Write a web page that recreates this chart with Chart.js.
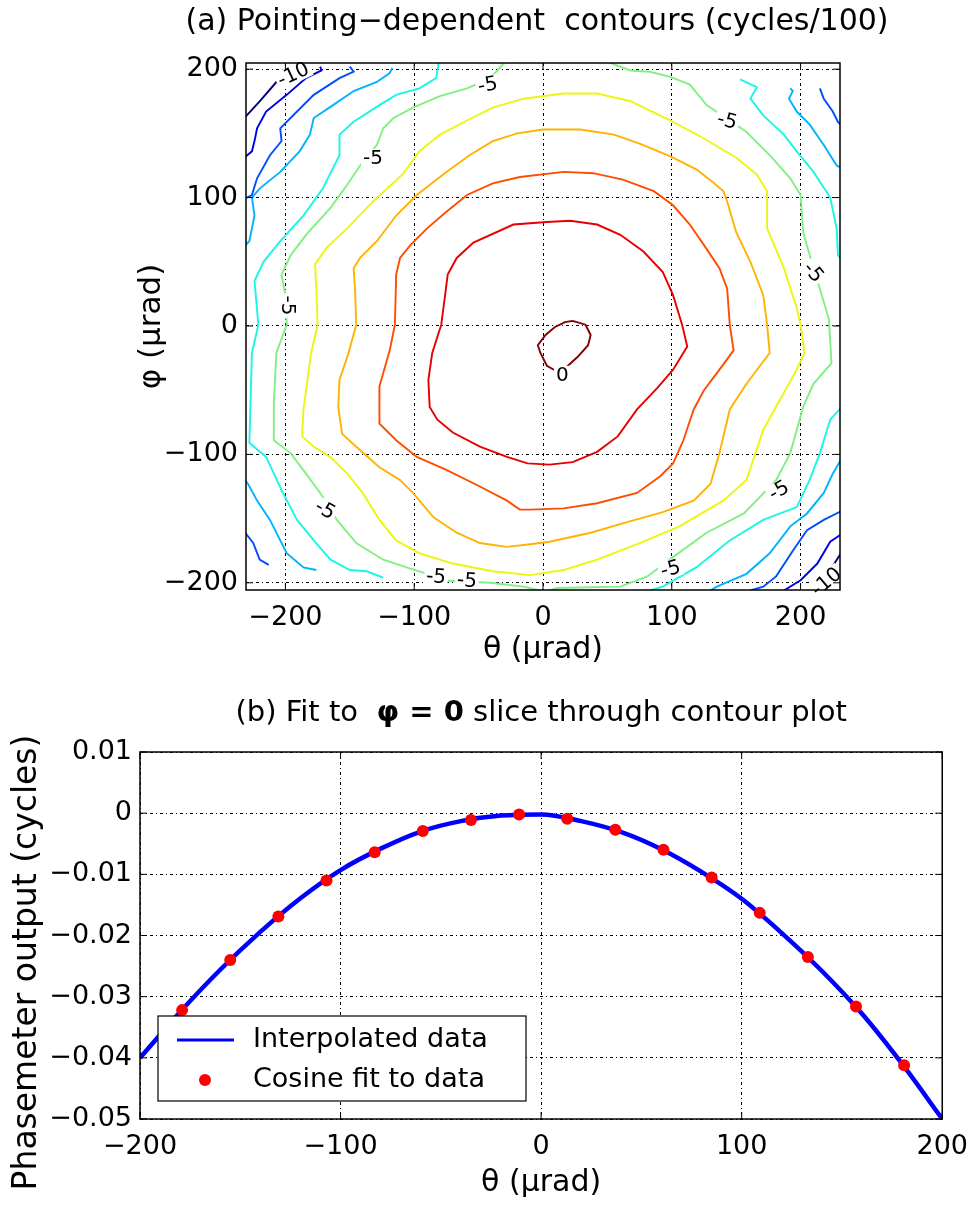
<!DOCTYPE html>
<html lang="en">
<head>
<meta charset="UTF-8">
<title>Pointing-dependent contours</title>
<script src="https://cdn.jsdelivr.net/npm/chart.js"></script>
<style>
  body { margin: 0; background: #fff; }
  .wrap { position: relative; width: 980px; height: 1205px; }
  canvas { position: absolute; left: 0; }
  #topChart { top: 0; }
  #bottomChart { top: 680px; }
</style>
</head>
<body>
<div class="wrap">
  <canvas id="topChart" width="980" height="680"></canvas>
  <canvas id="bottomChart" width="980" height="525"></canvas>
</div>
<script>
// ---- (a) contour data: theta, phi in microrad, one array of segments per level ----
const levels = [0, -1, -2, -3, -4, -5, -6, -7, -8, -9, -10];
const levelColors = ['#800000', '#e60000', '#ff4d00', '#ffb300', '#eef50f', '#80f080',
                     '#1af5e6', '#00b3ff', '#004dff', '#0000e6', '#000080'];

const c0 = [[[23,4],[33,1],[37,-7],[35,-15],[27,-24],[17,-33],[12,-36],[3,-31],[-2,-21],[-4,-15],[2,-7],[9,-1],[17,3],[23,4]]];
const c1 = [[[-79,1],[-76,24],[-74,40],[-67,53],[-54,65],[-23,79],[3,81],[21,82],[42,79],[60,71],[78,58],[93,42],[101,24],[108,1],[112,-16],[101,-34],[89,-48],[73,-65],[58,-86],[42,-98],[23,-106],[5,-108],[-12,-107],[-28,-102],[-49,-94],[-70,-83],[-82,-73],[-88,-63],[-89,-42],[-86,-21],[-79,1]]];
const c2 = [[[-115,1],[-114,40],[-111,53],[-103,63],[-90,76],[-75,89],[-59,102],[-39,111],[-18,116],[16,120],[39,119],[62,114],[86,105],[101,94],[114,79],[125,63],[137,45],[143,29],[145,1],[148,-19],[137,-34],[125,-50],[117,-65],[109,-89],[101,-107],[91,-117],[73,-130],[42,-138],[16,-142],[-10,-143],[-18,-143],[-28,-136],[-49,-125],[-75,-112],[-98,-102],[-114,-89],[-127,-76],[-127,-47],[-119,-19],[-115,1]]];
const c3 = [[[-145,1],[-146,29],[-147,45],[-142,53],[-129,66],[-114,86],[-98,102],[-75,120],[-57,133],[-39,144],[-20,150],[0,153],[29,153],[55,149],[75,142],[99,132],[119,122],[132,112],[140,105],[143,97],[150,73],[161,50],[171,24],[174,1],[176,-21],[158,-45],[145,-65],[137,-99],[130,-123],[117,-136],[93,-145],[68,-152],[37,-161],[5,-168],[-10,-170],[-28,-172],[-49,-169],[-67,-161],[-85,-149],[-101,-130],[-111,-120],[-127,-110],[-145,-94],[-156,-84],[-159,-63],[-158,-42],[-151,-21],[-145,1]]];
const c4 = [[[-175,1],[-176,29],[-177,48],[-168,61],[-152,76],[-132,97],[-109,118],[-96,136],[-80,149],[-59,160],[-39,170],[-15,177],[16,181],[42,181],[68,175],[99,160],[125,146],[150,131],[166,118],[174,105],[174,76],[187,45],[197,14],[200,1],[203,-21],[197,-34],[187,-52],[171,-81],[158,-120],[140,-136],[106,-156],[75,-169],[42,-182],[16,-190],[-10,-194],[-39,-191],[-70,-185],[-96,-177],[-114,-167],[-127,-151],[-140,-130],[-152,-115],[-165,-102],[-178,-94],[-187,-86],[-186,-65],[-180,-21],[-175,1]]];
const c5 = [[[-30,205],[-41,193],[-59,185],[-80,179],[-101,170],[-116,162],[-124,154],[-129,141],[-142,125],[-152,110],[-165,92],[-184,71],[-196,55],[-203,40],[-200,24],[-199,1],[-207,-21],[-209,-60],[-209,-89],[-196,-99],[-184,-115],[-173,-130],[-160,-151],[-145,-169],[-124,-182],[-103,-189],[-90,-193],[-80,-198],[-62,-199],[-41,-200],[-15,-203],[2,-207],[11,-204],[60,-203],[81,-195],[101,-180],[127,-161],[156,-146],[181,-120],[192,-99],[202,-63],[210,-45],[224,-29],[222,5],[215,29],[210,45],[202,73],[200,102],[192,115],[176,133],[158,151],[145,160],[127,172],[114,188],[99,194],[83,198],[68,199],[52,205]]];
const c6 = [
  [[-81,205],[-83,193],[-96,185],[-114,180],[-127,172],[-147,159],[-158,149],[-158,133],[-171,107],[-186,86],[-204,66],[-217,50],[-224,35],[-221,1],[-226,-21],[-228,-91],[-215,-102],[-202,-130],[-191,-151],[-178,-167],[-165,-182],[-150,-190],[-137,-191],[-124,-196]],
  [[83,-206],[93,-203],[119,-188],[145,-167],[171,-151],[197,-141],[207,-120],[215,-99],[223,-73],[232,-63]],
  [[232,52],[229,55],[228,76],[223,100],[210,120],[197,136],[187,149],[171,164],[161,177],[166,186],[153,192]]
];
const c7 = [
  [[-117,201],[-119,197],[-129,190],[-147,183],[-163,172],[-178,162],[-181,149],[-189,136],[-204,120],[-220,107],[-226,100],[-224,86],[-228,66],[-232,62]],
  [[-232,-119],[-229,-123],[-222,-136],[-212,-151],[-204,-167],[-199,-177],[-186,-188],[-176,-190]],
  [[130,-206],[135,-203],[158,-193],[176,-177],[192,-156],[205,-146],[218,-130],[225,-115],[232,-103]],
  [[232,123],[228,125],[218,141],[207,157],[197,167],[191,177],[194,183],[192,185]]
];
const c8 = [
  [[-150,202],[-147,198],[-158,193],[-178,180],[-191,167],[-204,154],[-203,144],[-212,133],[-222,115],[-226,102],[-232,99]],
  [[-232,-160],[-225,-169],[-220,-182],[-213,-186]],
  [[161,-206],[171,-203],[181,-195],[194,-175],[205,-159],[218,-151],[232,-144]],
  [[215,185],[218,177],[225,167],[229,159],[232,156]]
];
const c9 = [
  [[-173,202],[-172,199],[-184,193],[-199,180],[-215,167],[-222,154],[-224,144],[-226,136],[-232,131]],
  [[187,-206],[200,-198],[213,-185],[223,-168],[232,-162]]
];
const c10 = [
  [[-232,162],[-230,164],[-220,175],[-207,190],[-202,195]],
  [[232,-176],[223,-190],[218,-196]]
];
const contours = [c0, c1, c2, c3, c4, c5, c6, c7, c8, c9, c10];

// contour labels (clabel)
const labelText  = ['-10', '-5', '-5', '-5', '-5', '-5', '-5', '-5', '-5', '-5', '-5', '0', '-10'];
const labelTheta = [-194, -43, -132, -198, 143, 210, -169, -83, -59, 99, 183, 15, 220];
const labelPhi   = [196, 188, 131, 16, 160, 42, -143, -195, -198, -189, -128, -38, -199];
const labelAngle = [-25, -10, 0, 90, 15, 50, 30, 5, 5, -15, -30, 0, -40];

const thetaTicksA = [-200, -100, 0, 100, 200];
const phiTicksA = [-200, -100, 0, 100, 200];

// ---- (b) phi = 0 slice ----
const thetaLine = [-200,-180,-160,-140,-120,-100,-80,-60,-40,-20,0,20,40,60,80,100,120,140,160,180,200];
const phaseLine = [-0.0400,-0.0325,-0.0256,-0.0194,-0.0139,-0.0093,-0.0058,-0.0030,-0.0013,-0.0004,-0.0002,
                   -0.0013,-0.0031,-0.0059,-0.0096,-0.0140,-0.0196,-0.0258,-0.0328,-0.0410,-0.0500];
const thetaFit = [-179,-155,-131,-107,-83,-59,-35,-11,13,37,61,85,109,133,157,181];
const phaseFit = [-0.0322,-0.0240,-0.0169,-0.0110,-0.0064,-0.0029,-0.0011,-0.0002,-0.0009,-0.0027,
                  -0.0060,-0.0105,-0.0163,-0.0235,-0.0316,-0.0412];
const thetaTicksB = [-200, -100, 0, 100, 200];
const phaseTicksB = [0.01, 0, -0.01, -0.02, -0.03, -0.04, -0.05];

const FONT = '"DejaVu Sans", sans-serif';
const MINUS = '\u2212';
const fmt = v => String(v).replace('-', MINUS);
const gridDash = [3, 3, 1, 3];

// box with inward ticks, like matlab axes
const framePlugin = {
  id: 'frame',
  afterDatasetsDraw(chart) {
    const {ctx, chartArea: a, scales: {x, y}} = chart;
    ctx.save();
    ctx.strokeStyle = '#000';
    ctx.lineWidth = 1;
    ctx.beginPath();
    x.ticks.forEach(t => {
      const px = x.getPixelForValue(t.value);
      ctx.moveTo(px, a.bottom); ctx.lineTo(px, a.bottom - 7);
      ctx.moveTo(px, a.top); ctx.lineTo(px, a.top + 7);
    });
    y.ticks.forEach(t => {
      const py = y.getPixelForValue(t.value);
      ctx.moveTo(a.left, py); ctx.lineTo(a.left + 7, py);
      ctx.moveTo(a.right, py); ctx.lineTo(a.right - 7, py);
    });
    ctx.stroke();
    ctx.lineWidth = 1.5;
    ctx.strokeRect(a.left, a.top, a.right - a.left, a.bottom - a.top);
    ctx.restore();
  }
};

function drawRotated(ctx, text, x, y, font) {
  ctx.save();
  ctx.translate(x, y);
  ctx.rotate(-Math.PI / 2);
  ctx.font = font;
  ctx.fillText(text, 0, 0);
  ctx.restore();
}

const captionsA = {
  id: 'captionsA',
  afterDraw(chart) {
    const {ctx, chartArea: a} = chart;
    const cx = (a.left + a.right) / 2;
    ctx.save();
    ctx.fillStyle = '#000';
    ctx.textAlign = 'center';
    ctx.textBaseline = 'middle';
    ctx.font = '30px ' + FONT;
    ctx.fillText('(a) Pointing' + MINUS + 'dependent  contours (cycles/100)', cx - 6, a.top - 41);
    ctx.fillText('\u03b8 (\u00b5rad)', cx, a.bottom + 60);
    drawRotated(ctx, '\u03c6 (\u00b5rad)', a.left - 94, (a.top + a.bottom) / 2, '31px ' + FONT);
    ctx.restore();
  }
};

const clabelPlugin = {
  id: 'clabels',
  afterDatasetsDraw(chart) {
    const {ctx, scales: {x, y}} = chart;
    ctx.save();
    ctx.font = '20px ' + FONT;
    ctx.textAlign = 'center';
    ctx.textBaseline = 'middle';
    labelText.forEach((t, i) => {
      ctx.save();
      ctx.translate(x.getPixelForValue(labelTheta[i]), y.getPixelForValue(labelPhi[i]));
      ctx.rotate(labelAngle[i] * Math.PI / 180);
      const w = ctx.measureText(t).width;
      ctx.fillStyle = '#fff';
      ctx.fillRect(-w / 2 - 2, -9, w + 4, 18);
      ctx.fillStyle = '#000';
      ctx.fillText(t, 0, 1);
      ctx.restore();
    });
    ctx.restore();
  }
};

const contourSets = [];
levels.forEach((lv, i) => {
  contours[i].forEach(seg => {
    contourSets.push({
      label: String(lv),
      data: seg.map(p => ({x: p[0], y: p[1]})),
      showLine: true,
      borderColor: levelColors[i],
      borderWidth: 1.9,
      pointRadius: 0,
      tension: 0
    });
  });
});

new Chart(document.getElementById('topChart'), {
  type: 'scatter',
  data: { datasets: contourSets },
  options: {
    responsive: false,
    animation: false,
    layout: { padding: { top: 63, right: 140, left: 0, bottom: 0 } },
    plugins: { legend: { display: false }, tooltip: { enabled: false } },
    scales: {
      x: {
        type: 'linear', min: -230.6, max: 230.6,
        afterBuildTicks: s => { s.ticks = thetaTicksA.map(v => ({value: v})); },
        afterFit: s => { s.height = 90; },
        grid: { color: '#000', lineWidth: 1, drawTicks: false },
        border: { display: false, dash: gridDash },
        ticks: { color: '#000', font: { family: FONT, size: 27 }, padding: 12, maxRotation: 0, autoSkip: false, callback: v => fmt(v) }
      },
      y: {
        type: 'linear', min: -205.6, max: 204.8,
        afterBuildTicks: s => { s.ticks = phiTicksA.map(v => ({value: v})); },
        afterFit: s => { s.width = 246; },
        grid: { color: '#000', lineWidth: 1, drawTicks: false },
        border: { display: false, dash: gridDash },
        ticks: { color: '#000', font: { family: FONT, size: 27 }, padding: 8, autoSkip: false, callback: v => fmt(v) }
      }
    }
  },
  plugins: [clabelPlugin, framePlugin, captionsA]
});

// ---- chart (b) ----
const captionsB = {
  id: 'captionsB',
  afterDraw(chart) {
    const {ctx, chartArea: a} = chart;
    const cx = (a.left + a.right) / 2;
    ctx.save();
    ctx.fillStyle = '#000';
    ctx.textBaseline = 'middle';
    // title with bold "phi = 0"
    const parts = [['(b) Fit to  ', 'normal'], ['\u03c6 = 0', 'bold'], [' slice through contour plot', 'normal']];
    let total = 0;
    parts.forEach(p => { ctx.font = p[1] + ' 29px ' + FONT; total += ctx.measureText(p[0]).width; });
    let px = cx - total / 2;
    ctx.textAlign = 'left';
    parts.forEach(p => {
      ctx.font = p[1] + ' 29px ' + FONT;
      ctx.fillText(p[0], px, a.top - 39);
      px += ctx.measureText(p[0]).width;
    });
    ctx.textAlign = 'center';
    ctx.font = '30px ' + FONT;
    ctx.fillText('\u03b8 (\u00b5rad)', cx, a.bottom + 64);
    drawRotated(ctx, 'Phasemeter output (cycles)', a.left - 113, (a.top + a.bottom) / 2 + 27, '33px ' + FONT);
    ctx.restore();
  }
};

// legend box inside the lower-left corner of the axes
const legendBox = {
  id: 'legendBox',
  afterDraw(chart) {
    const {ctx, chartArea: a} = chart;
    const line = chart.data.datasets.find(d => d.showLine);
    const dots = chart.data.datasets.find(d => !d.showLine);
    const x0 = a.left + 18, w = 368, h = 85, y0 = a.bottom - 18 - h;
    ctx.save();
    ctx.fillStyle = '#fff';
    ctx.fillRect(x0, y0, w, h);
    ctx.strokeStyle = '#000';
    ctx.lineWidth = 1.2;
    ctx.strokeRect(x0, y0, w, h);
    ctx.strokeStyle = line.borderColor;
    ctx.lineWidth = 3;
    ctx.beginPath();
    ctx.moveTo(x0 + 19, y0 + 24);
    ctx.lineTo(x0 + 76, y0 + 24);
    ctx.stroke();
    ctx.fillStyle = dots.backgroundColor;
    ctx.beginPath();
    ctx.arc(x0 + 47, y0 + 64, 6, 0, Math.PI * 2);
    ctx.fill();
    ctx.fillStyle = '#000';
    ctx.font = '27px ' + FONT;
    ctx.textBaseline = 'middle';
    ctx.fillText(line.label, x0 + 95, y0 + 24);
    ctx.fillText(dots.label, x0 + 95, y0 + 64);
    ctx.restore();
  }
};

new Chart(document.getElementById('bottomChart'), {
  type: 'scatter',
  data: {
    datasets: [
      {
        label: 'Cosine fit to data',
        data: thetaFit.map((t, i) => ({x: t, y: phaseFit[i]})),
        showLine: false,
        backgroundColor: '#ff0000',
        borderWidth: 0,
        pointRadius: 6,
        order: 0
      },
      {
        label: 'Interpolated data',
        data: thetaLine.map((t, i) => ({x: t, y: phaseLine[i]})),
        showLine: true,
        borderColor: '#0000ff',
        borderWidth: 4.5,
        pointRadius: 0,
        cubicInterpolationMode: 'monotone',
        order: 1
      }
    ]
  },
  options: {
    responsive: false,
    animation: false,
    layout: { padding: { top: 72, right: 35, left: 0, bottom: 0 } },
    plugins: { legend: { display: false }, tooltip: { enabled: false } },
    scales: {
      x: {
        type: 'linear', min: -200, max: 200,
        afterBuildTicks: s => { s.ticks = thetaTicksB.map(v => ({value: v})); },
        afterFit: s => { s.height = 86; },
        grid: { color: '#000', lineWidth: 1, drawTicks: false },
        border: { display: false, dash: gridDash },
        ticks: { color: '#000', font: { family: FONT, size: 27 }, padding: 12, maxRotation: 0, autoSkip: false, callback: v => fmt(v) }
      },
      y: {
        type: 'linear', min: -0.05, max: 0.01,
        afterBuildTicks: s => { s.ticks = phaseTicksB.map(v => ({value: v})); },
        afterFit: s => { s.width = 140; },
        grid: { color: '#000', lineWidth: 1, drawTicks: false },
        border: { display: false, dash: gridDash },
        ticks: { color: '#000', font: { family: FONT, size: 27 }, padding: 8, autoSkip: false,
                 callback: v => v === 0 ? '0' : fmt(v.toFixed(2)) }
      }
    }
  },
  plugins: [framePlugin, captionsB, legendBox]
});
</script>
</body>
</html>
